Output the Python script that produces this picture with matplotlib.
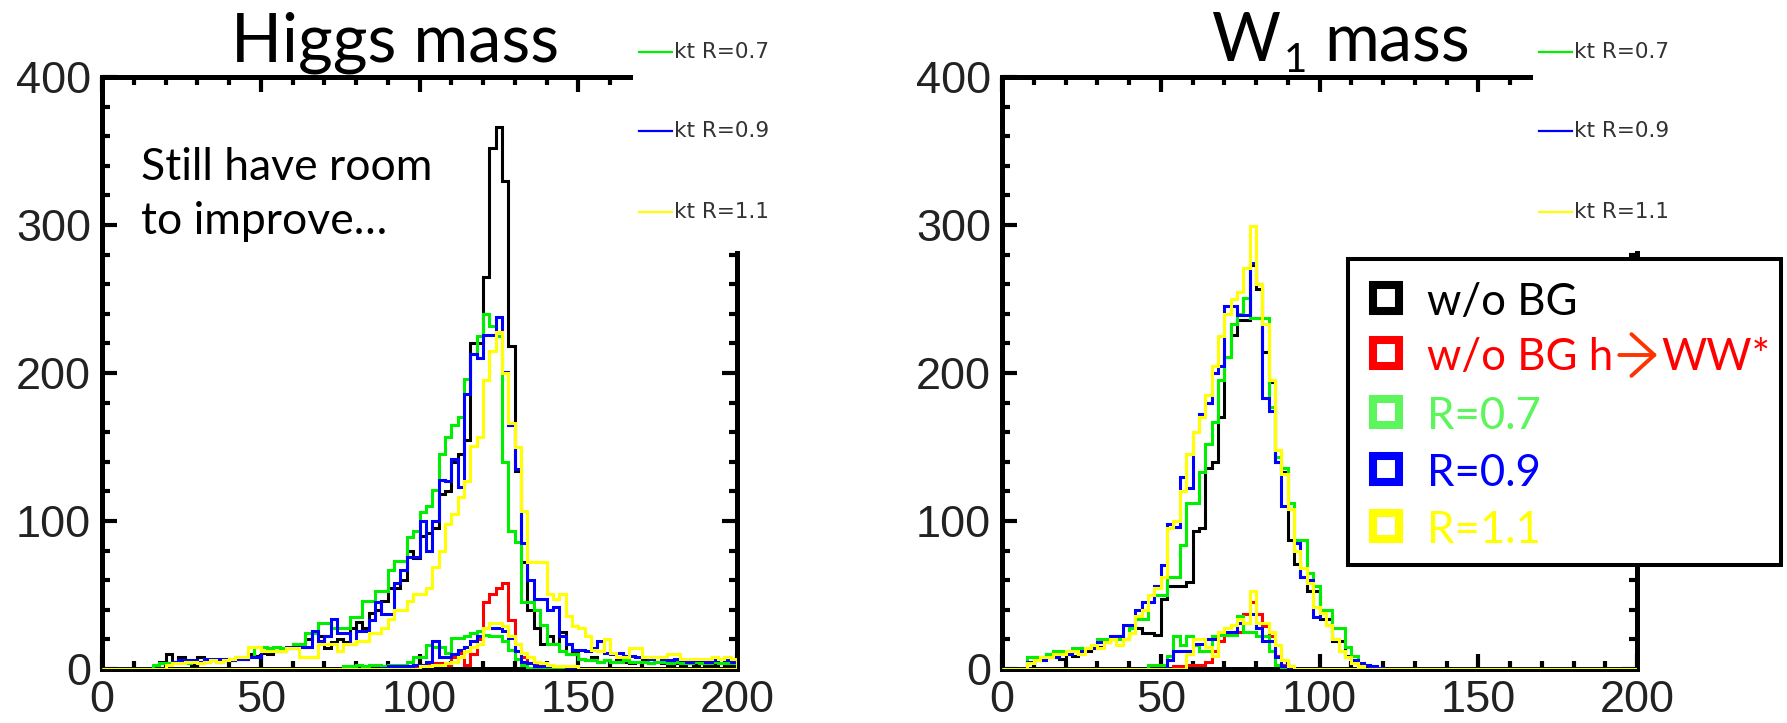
import numpy as np
import matplotlib
matplotlib.use("Agg")
import matplotlib.pyplot as plt
from matplotlib.patches import Rectangle, FancyArrowPatch
from matplotlib.lines import Line2D
from matplotlib.ticker import MultipleLocator

# 2 GeV bins, 0..200
bin_edges = np.arange(0, 202, 2)

# ---- Higgs mass panel ----
higgs_black = [
    0, 0, 0, 0, 0, 0, 0, 0, 0, 5,
    10, 5, 8, 5, 3, 8, 5, 6, 5, 7,
    6, 8, 7, 10, 9, 11, 10, 12, 12, 14,
    17, 15, 20, 24, 22, 14, 18, 20, 18, 28,
    32, 28, 38, 40, 46, 55, 55, 60, 80, 75,
    90, 92, 95, 118, 120, 140, 145, 155, 220, 220,
    265, 352, 366, 330, 218, 134, 72, 40, 28, 17,
    22, 17, 25, 10, 12, 7, 6, 8, 5, 6,
    5, 6, 5, 4, 5, 6, 4, 5, 4, 3,
    4, 3, 4, 3, 4, 3, 3, 4, 3, 3]
higgs_red = [
    0, 0, 0, 0, 0, 0, 0, 0, 0, 0,
    0, 0, 0, 0, 0, 0, 0, 0, 0, 0,
    0, 0, 0, 0, 0, 0, 0, 0, 0, 0,
    0, 0, 0, 0, 0, 0, 0, 0, 0, 0,
    0, 0, 0, 0, 0, 0, 0, 0, 0, 2,
    3, 3, 4, 4, 3, 8, 11, 3, 10, 20,
    45, 51, 55, 58, 33, 17, 8, 4, 3, 2,
    0, 0, 0, 0, 0, 0, 0, 0, 0, 0,
    0, 0, 0, 0, 0, 0, 0, 0, 0, 0,
    0, 0, 0, 0, 0, 0, 0, 0, 0, 0]
higgs_green = [
    0, 0, 0, 0, 0, 0, 0, 0, 3, 4,
    4, 5, 4, 4, 5, 4, 5, 6, 5, 6,
    6, 7, 7, 8, 15, 15, 14, 15, 14, 14,
    17, 17, 24, 24, 31, 31, 28, 28, 28, 35,
    35, 46, 46, 53, 53, 67, 73, 73, 89, 93,
    106, 110, 121, 145, 157, 165, 170, 196, 213, 225,
    240, 232, 225, 140, 93, 86, 45, 45, 40, 30,
    17, 17, 12, 10, 10, 7, 6, 6, 5, 6,
    5, 5, 6, 5, 5, 5, 4, 5, 5, 4,
    5, 4, 4, 5, 4, 4, 5, 4, 4, 4]
higgs_blue = [
    0, 0, 0, 0, 0, 0, 0, 0, 0, 0,
    3, 5, 6, 6, 6, 5, 7, 7, 7, 7,
    6, 7, 7, 8, 8, 12, 12, 12, 12, 15,
    15, 15, 15, 26, 19, 22, 34, 24, 24, 17,
    26, 26, 33, 45, 37, 37, 58, 67, 76, 76,
    100, 80, 100, 128, 127, 142, 123, 186, 213, 210,
    226, 226, 238, 201, 165, 135, 85, 60, 47, 47,
    40, 42, 22, 17, 13, 13, 12, 14, 19, 11,
    10, 11, 9, 9, 8, 8, 7, 8, 7, 6,
    7, 6, 5, 6, 6, 5, 6, 7, 6, 5]
higgs_yellow = [
    0, 0, 0, 0, 0, 0, 0, 0, 0, 0,
    3, 4, 4, 5, 5, 4, 5, 6, 5, 6,
    7, 8, 8, 15, 15, 12, 12, 12, 12, 14,
    14, 8, 8, 8, 17, 17, 17, 12, 17, 17,
    19, 19, 24, 24, 28, 34, 40, 40, 46, 51,
    51, 55, 69, 80, 98, 105, 116, 127, 151, 157,
    195, 215, 228, 200, 166, 150, 107, 72, 72, 72,
    51, 47, 51, 36, 29, 28, 22, 13, 12, 20,
    11, 8, 8, 14, 14, 8, 8, 8, 8, 10,
    10, 7, 7, 7, 7, 7, 8, 7, 8, 7]
higgs_green_ww = [
    0, 0, 0, 0, 0, 0, 0, 0, 0, 0,
    0, 0, 0, 0, 0, 0, 0, 0, 0, 0,
    0, 0, 0, 0, 0, 0, 0, 0, 0, 0,
    0, 0, 0, 0, 0, 0, 0, 0, 2, 2,
    3, 2, 3, 3, 2, 3, 3, 3, 5, 8,
    8, 16, 15, 15, 11, 21, 21, 22, 24, 26,
    23, 22, 22, 19, 13, 7, 3, 1, 0, 0,
    0, 0, 0, 0, 0, 0, 0, 0, 0, 0,
    0, 0, 0, 0, 0, 0, 0, 0, 0, 0,
    0, 0, 0, 0, 0, 0, 0, 0, 0, 0]
higgs_blue_ww = [
    0, 0, 0, 0, 0, 0, 0, 0, 0, 0,
    0, 0, 0, 0, 0, 0, 0, 0, 0, 0,
    0, 0, 0, 0, 0, 0, 0, 0, 0, 0,
    0, 0, 0, 0, 0, 0, 0, 0, 0, 0,
    0, 0, 0, 0, 1, 2, 2, 2, 2, 3,
    3, 5, 19, 8, 8, 10, 13, 15, 19, 22,
    28, 28, 28, 26, 21, 12, 5, 4, 2, 2,
    2, 2, 2, 1, 1, 0, 0, 0, 0, 0,
    0, 0, 0, 0, 0, 0, 0, 0, 0, 0,
    0, 0, 0, 0, 0, 0, 0, 0, 0, 0]
higgs_yellow_ww = [
    0, 0, 0, 0, 0, 0, 0, 0, 0, 0,
    0, 0, 0, 0, 0, 0, 0, 0, 0, 0,
    0, 0, 0, 0, 0, 0, 0, 0, 0, 0,
    0, 0, 0, 0, 0, 0, 0, 0, 0, 0,
    0, 0, 0, 0, 0, 0, 0, 0, 0, 0,
    2, 2, 3, 3, 4, 5, 8, 12, 15, 17,
    28, 31, 31, 29, 22, 17, 11, 8, 5, 4,
    3, 2, 2, 2, 2, 0, 0, 0, 0, 0,
    0, 0, 0, 0, 0, 0, 0, 0, 0, 0,
    0, 0, 0, 0, 0, 0, 0, 0, 0, 0]

# ---- W1 mass panel ----
w_black = [
    0, 0, 0, 0, 5, 8, 8, 10, 8, 7,
    10, 9, 12, 12, 14, 15, 18, 20, 22, 20,
    28, 28, 24, 24, 23, 47, 56, 56, 56, 59,
    93, 95, 136, 140, 170, 211, 226, 236, 236, 273,
    257, 214, 194, 140, 133, 87, 71, 62, 53, 53,
    34, 34, 19, 19, 9, 5, 2, 0, 0, 0,
    0, 0, 0, 0, 0, 0, 0, 0, 0, 0,
    0, 0, 0, 0, 0, 0, 0, 0, 0, 0,
    0, 0, 0, 0, 0, 0, 0, 0, 0, 0,
    0, 0, 0, 0, 0, 0, 0, 0, 0, 0]
w_red = [
    0, 0, 0, 0, 0, 0, 0, 0, 0, 0,
    0, 0, 0, 0, 0, 0, 0, 0, 0, 0,
    0, 0, 0, 0, 0, 0, 0, 2, 2, 3,
    3, 3, 5, 12, 19, 23, 25, 25, 37, 45,
    37, 29, 22, 9, 3, 2, 0, 0, 0, 0,
    0, 0, 0, 0, 0, 0, 0, 0, 0, 0,
    0, 0, 0, 0, 0, 0, 0, 0, 0, 0,
    0, 0, 0, 0, 0, 0, 0, 0, 0, 0,
    0, 0, 0, 0, 0, 0, 0, 0, 0, 0,
    0, 0, 0, 0, 0, 0, 0, 0, 0, 0]
w_green = [
    0, 0, 0, 0, 8, 8, 8, 10, 12, 12,
    12, 14, 14, 14, 15, 20, 20, 20, 20, 20,
    28, 34, 34, 50, 50, 50, 62, 62, 84, 112,
    112, 133, 152, 167, 195, 211, 233, 240, 251, 237,
    237, 237, 177, 143, 136, 112, 87, 87, 65, 56,
    40, 40, 28, 28, 15, 9, 3, 0, 0, 0,
    0, 0, 0, 0, 0, 0, 0, 0, 0, 0,
    0, 0, 0, 0, 0, 0, 0, 0, 0, 0,
    0, 0, 0, 0, 0, 0, 0, 0, 0, 0,
    0, 0, 0, 0, 0, 0, 0, 0, 0, 0]
w_blue = [
    0, 0, 0, 0, 5, 6, 6, 8, 8, 10,
    10, 12, 12, 14, 14, 18, 18, 22, 22, 30,
    30, 40, 45, 45, 56, 70, 98, 96, 130, 122,
    160, 172, 180, 200, 205, 245, 245, 239, 239, 274,
    260, 183, 174, 140, 110, 108, 85, 62, 60, 35,
    38, 30, 20, 12, 8, 6, 4, 3, 2, 1,
    0, 0, 0, 0, 0, 0, 0, 0, 0, 0,
    0, 0, 0, 0, 0, 0, 0, 0, 0, 0,
    0, 0, 0, 0, 0, 0, 0, 0, 0, 0,
    0, 0, 0, 0, 0, 0, 0, 0, 0, 0]
w_yellow = [
    0, 0, 0, 0, 4, 6, 8, 8, 10, 10,
    12, 12, 10, 14, 16, 14, 18, 20, 16, 20,
    24, 36, 40, 50, 55, 62, 95, 100, 120, 145,
    160, 170, 185, 205, 225, 240, 250, 255, 271, 299,
    260, 233, 195, 148, 132, 108, 80, 68, 58, 42,
    38, 30, 20, 12, 8, 4, 2, 0, 0, 0,
    0, 0, 0, 0, 0, 0, 0, 0, 0, 0,
    0, 0, 0, 0, 0, 0, 0, 0, 0, 0,
    0, 0, 0, 0, 0, 0, 0, 0, 0, 0,
    0, 0, 0, 0, 0, 0, 0, 0, 0, 0]
w_green_ww = [
    0, 0, 0, 0, 0, 0, 0, 0, 0, 0,
    0, 0, 0, 0, 0, 0, 0, 0, 0, 0,
    0, 0, 0, 3, 3, 3, 9, 22, 16, 22,
    16, 12, 12, 22, 23, 23, 23, 36, 25, 25,
    22, 22, 12, 3, 0, 0, 0, 0, 0, 0,
    0, 0, 0, 0, 0, 0, 0, 0, 0, 0,
    0, 0, 0, 0, 0, 0, 0, 0, 0, 0,
    0, 0, 0, 0, 0, 0, 0, 0, 0, 0,
    0, 0, 0, 0, 0, 0, 0, 0, 0, 0,
    0, 0, 0, 0, 0, 0, 0, 0, 0, 0]
w_blue_ww = [
    0, 0, 0, 0, 0, 0, 0, 0, 0, 0,
    0, 0, 0, 0, 0, 0, 0, 0, 0, 0,
    0, 0, 0, 0, 0, 0, 6, 12, 12, 12,
    17, 17, 20, 20, 25, 25, 25, 31, 31, 37,
    28, 19, 19, 8, 2, 0, 0, 0, 0, 0,
    0, 0, 0, 0, 0, 0, 0, 0, 0, 0,
    0, 0, 0, 0, 0, 0, 0, 0, 0, 0,
    0, 0, 0, 0, 0, 0, 0, 0, 0, 0,
    0, 0, 0, 0, 0, 0, 0, 0, 0, 0,
    0, 0, 0, 0, 0, 0, 0, 0, 0, 0]
w_yellow_ww = [
    0, 0, 0, 0, 0, 0, 0, 0, 0, 0,
    0, 0, 0, 0, 0, 0, 0, 0, 0, 0,
    0, 0, 0, 0, 0, 0, 0, 0, 0, 10,
    20, 20, 15, 9, 25, 28, 30, 34, 31, 53,
    31, 31, 25, 16, 6, 2, 0, 0, 0, 0,
    0, 0, 0, 0, 0, 0, 0, 0, 0, 0,
    0, 0, 0, 0, 0, 0, 0, 0, 0, 0,
    0, 0, 0, 0, 0, 0, 0, 0, 0, 0,
    0, 0, 0, 0, 0, 0, 0, 0, 0, 0,
    0, 0, 0, 0, 0, 0, 0, 0, 0, 0]

root_labels = ['kt R=0.7', 'kt R=0.9', 'kt R=1.1']
legend_labels = ['w/o BG', 'w/o BG h', 'R=0.7', 'R=0.9', 'R=1.1']

GREEN = '#00ee00'
BLUE = '#0000ff'
YELLOW = '#ffff00'
RED = '#ff0000'

W, H = 1787, 723
def fx(x):
    return x / W
def fy(y):
    return 1 - y / H

fig = plt.figure(figsize=(W / 100, H / 100), dpi=100)

def draw_panel(left_px, series):
    ax = fig.add_axes([fx(left_px), fy(669), 635 / W, 592 / H])
    for vals, col in series:
        ax.stairs(vals, bin_edges, color=col, lw=2.2, zorder=3)
    ax.set_xlim(0, 200)
    ax.set_ylim(0, 400)
    ax.set_xticks([0, 50, 100, 150, 200])
    ax.set_yticks([0, 100, 200, 300, 400])
    ax.xaxis.set_minor_locator(MultipleLocator(10))
    ax.yaxis.set_minor_locator(MultipleLocator(20))
    ax.tick_params(which='both', direction='in', top=True, right=True,
                   width=3, color='black')
    ax.tick_params(which='major', length=11)
    ax.tick_params(which='minor', length=5.5)
    ax.tick_params(axis='x', pad=8)
    ax.tick_params(axis='y', pad=8)
    for lab in ax.get_xticklabels() + ax.get_yticklabels():
        lab.set_fontfamily('Liberation Sans')
        lab.set_fontsize(32.5)
        lab.set_color('#222222')
    for sp in ax.spines.values():
        sp.set_linewidth(3.6)
    return ax

ax1 = draw_panel(102, [(higgs_black, 'black'), (higgs_red, RED),
                       (higgs_green, GREEN), (higgs_green_ww, GREEN),
                       (higgs_blue, BLUE), (higgs_blue_ww, BLUE),
                       (higgs_yellow, YELLOW), (higgs_yellow_ww, YELLOW)])
ax2 = draw_panel(1002, [(w_black, 'black'), (w_red, RED),
                        (w_green, GREEN), (w_green_ww, GREEN),
                        (w_blue, BLUE), (w_blue_ww, BLUE),
                        (w_yellow, YELLOW), (w_yellow_ww, YELLOW)])

# white boxes of the original ROOT legends (they hide the frame corner)
for x0, x1 in ((633, 800), (1533, W)):
    fig.add_artist(Rectangle((fx(x0), fy(251)), (x1 - x0) / W, 251 / H,
                             transform=fig.transFigure, facecolor='white',
                             edgecolor='none', zorder=5))
    for ypix, col, lab in zip([52, 131, 212], [GREEN, BLUE, YELLOW], root_labels):
        fig.add_artist(Line2D([fx(x0 + 6), fx(x0 + 39)], [fy(ypix), fy(ypix)],
                              transform=fig.transFigure, color=col, lw=1.6, zorder=6))
        fig.text(fx(x0 + 41), fy(ypix), lab, fontsize=15.5, family='DejaVu Sans',
                 color='#333333', va='center', ha='left', zorder=6)

# titles
tfont = ['Lato', 'DejaVu Sans']
fig.text(fx(231), fy(61), 'Higgs mass', fontsize=48, family=tfont,
         ha='left', va='baseline', zorder=9)
fig.text(fx(1212), fy(61), 'W', fontsize=48, family=tfont, ha='left',
         va='baseline', zorder=9)
fig.text(fx(1284), fy(72), '1', fontsize=29, family=tfont, ha='left',
         va='baseline', zorder=9)
fig.text(fx(1324), fy(61), 'mass', fontsize=48, family=tfont, ha='left',
         va='baseline', zorder=9)

# annotation
fig.text(fx(141), fy(180), 'Still have room', fontsize=32, family=tfont,
         ha='left', va='baseline')
fig.text(fx(141), fy(234), 'to improve\u2026', fontsize=32, family=tfont,
         ha='left', va='baseline')

# big legend
fig.add_artist(Rectangle((fx(1348), fy(565)), 433 / W, 306 / H,
                         transform=fig.transFigure, facecolor='white',
                         edgecolor='black', lw=2.9, zorder=7))
leg_colors = ['black', RED, '#5cf55c', BLUE, YELLOW]
leg_base = [315, 370, 429, 486, 543]
leg_texts = []
for lab, col, yb in zip(legend_labels, leg_colors, leg_base):
    fig.add_artist(Rectangle((fx(1373), fy(yb - 4)), 26 / W, 26 / H,
                             transform=fig.transFigure, facecolor='none',
                             edgecolor=col, lw=5.8, zorder=8))
    leg_texts.append(fig.text(fx(1427), fy(yb), lab, fontsize=31.5, family=tfont,
                              color=col, ha='left', va='baseline', zorder=8))

# the h->WW* entry: thick orange-red arrow, then WW*
renderer = fig.canvas.get_renderer()
x_end = leg_texts[1].get_window_extent(renderer).x1
y_arrow = leg_base[1] - 15
fig.add_artist(FancyArrowPatch((fx(x_end + 6), fy(y_arrow)), (fx(x_end + 44), fy(y_arrow)),
                               transform=fig.transFigure,
                               arrowstyle='->,head_length=0.55,head_width=0.5',
                               mutation_scale=30, lw=2.8, color='#ff3300',
                               shrinkA=0, shrinkB=0, zorder=8))
fig.text(fx(x_end + 48), fy(leg_base[1]), 'WW*', fontsize=31.5, family=tfont,
         color=RED, ha='left', va='baseline', zorder=8)

fig.savefig('out.png', dpi=100)
